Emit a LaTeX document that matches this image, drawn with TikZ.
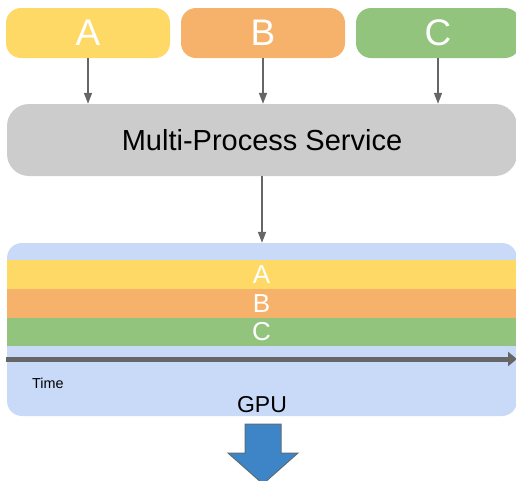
\documentclass[tikz,border=0pt]{standalone}
\usepackage{fontspec}
\setmainfont{Liberation Sans}
\usetikzlibrary{arrows.meta,positioning}

\definecolor{procA}{HTML}{FFD966}
\definecolor{procB}{HTML}{F6B26B}
\definecolor{procC}{HTML}{93C47D}
\definecolor{mpsgray}{HTML}{CCCCCC}
\definecolor{gpublue}{HTML}{C9DAF8}
\definecolor{linkgray}{HTML}{666666}
\definecolor{outblue}{HTML}{3D85C6}

\tikzset{
  procbox/.style={rounded corners=15pt, minimum width=164pt, minimum height=50pt,
    inner sep=0pt, text=white, font=\fontsize{37}{37}\selectfont},
  band/.style={minimum width=509pt, minimum height=28.7pt, inner sep=0pt,
    text=white, font=\fontsize{26}{26}\selectfont},
  link/.style={linkgray, line width=1.5pt, -{Triangle[length=11pt, width=8pt]}}
}

\begin{document}
\begin{tikzpicture}[x=1pt, y=-1pt]
  \clip (0, 0) rectangle (516, 480);
  \def\procnames{{"A", "B", "C"}}
  \def\proccolors{{"procA", "procB", "procC"}}

  % processes on top
  \foreach \i in {0, 1, 2} {
    \pgfmathsetmacro{\pname}{\procnames[\i]}
    \pgfmathsetmacro{\pcol}{\proccolors[\i]}
    \node[procbox, fill=\pcol] (proc\pname) at ({88 + 175 * \i}, 33) {\pname};
  }

  % multi-process service
  \node[rounded corners=22pt, fill=mpsgray, minimum width=510pt, minimum height=72pt,
    inner sep=0pt, font=\fontsize{29}{29}\selectfont] (mps) at (262, 140) {Multi-Process Service};

  % gpu
  \node[rounded corners=15pt, fill=gpublue, minimum width=510pt, minimum height=173pt,
    inner sep=0pt] (gpu) at (262, 329.5) {};
  \foreach \i in {0, 1, 2} {
    \pgfmathsetmacro{\pname}{\procnames[\i]}
    \pgfmathsetmacro{\pcol}{\proccolors[\i]}
    \node[band, fill=\pcol] (band\pname) at (261.5, {274.5 + 28.7 * \i}) {\pname};
  }
  \coordinate (timestart) at (6, 359);
  \coordinate (timeend) at (517, 359);
  \draw[linkgray, line width=5pt, -{Triangle[length=9pt, width=14pt]}] (timestart) -- (timeend);
  \node[anchor=west, inner sep=0pt, font=\fontsize{14.4}{14.4}\selectfont] (timelabel) at (32, 383) {Time};
  \node[inner sep=0pt, font=\fontsize{23}{23}\selectfont] (gpulabel) at (262, 405) {GPU};

  % links
  \foreach \p in {A, B, C} {
    \draw[link] (proc\p.south) -- (proc\p.south |- mps.north);
  }
  \draw[link] (mps.south) -- (gpu.north);

  % output arrow
  \draw[fill=outblue, draw=linkgray!80!outblue, line width=1pt]
    (245, 424) -- (281, 424) -- (281, 453) -- (298, 453) -- (263, 484)
    -- (228, 453) -- (245, 453) -- cycle;
\end{tikzpicture}
\end{document}
